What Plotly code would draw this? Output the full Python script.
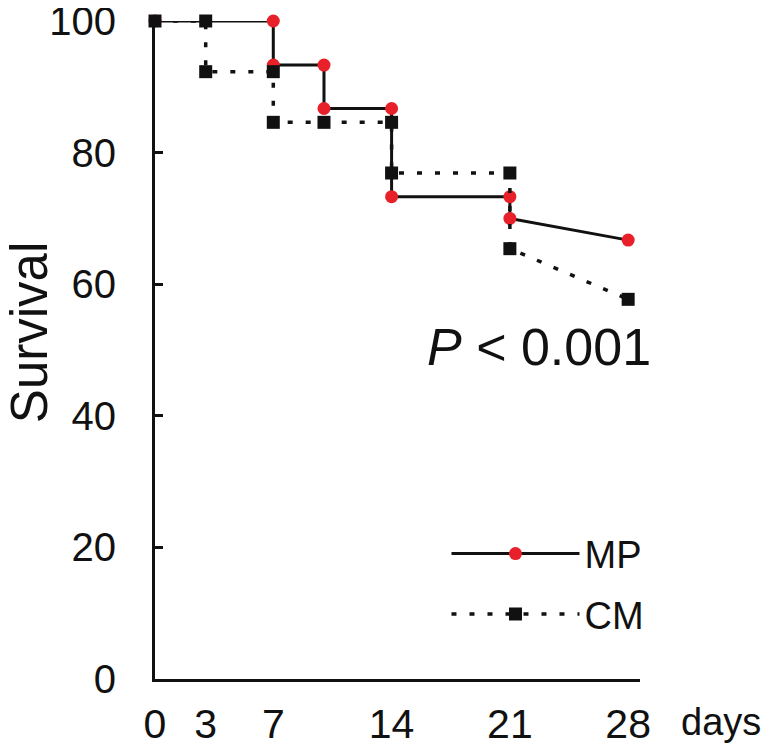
import plotly.graph_objects as go

# ---- data ----
mp_days = [0, 7, 7, 10, 10, 14, 14, 21, 21, 28]
mp_surv = [100, 100, 93.3, 93.3, 86.7, 86.7, 73.3, 73.3, 70.0, 66.7]

cm_days = [0, 3, 3, 7, 7, 10, 14, 14, 21, 21, 28]
cm_surv = [100, 100, 92.3, 92.3, 84.6, 84.6, 84.6, 76.9, 76.9, 65.4, 57.7]

x_ticks = [0, 3, 7, 14, 21, 28]
y_ticks = [0, 20, 40, 60, 80, 100]

REG = "Liberation Sans, Arial, Helvetica, sans-serif"
INK = "#111111"

fig = go.Figure()
fig.add_trace(go.Scatter(
    x=mp_days, y=mp_surv, name="MP", mode="lines+markers", legendgroup="mp",
    line=dict(color=INK, width=3),
    marker=dict(symbol="circle", size=13, color="#e8202a"),
    cliponaxis=False,
))
fig.add_trace(go.Scatter(
    x=cm_days, y=cm_surv, name="CM", mode="lines+markers", legendgroup="cm",
    line=dict(color=INK, width=3.5, dash="5px,13px"),
    marker=dict(symbol="square", size=13, color=INK),
    cliponaxis=False,
))

# the page body has an 8px default margin, so the figure is sized to fit
fig.update_layout(
    width=761, height=741,
    margin=dict(l=147, r=129, t=13, b=70),
    paper_bgcolor="white", plot_bgcolor="white",
    showlegend=True,
    legend=dict(
        x=0.601, y=0.238, xanchor="left", yanchor="top",
        font=dict(family=REG, size=38, color=INK),
        itemwidth=128, bgcolor="rgba(0,0,0,0)",
        traceorder="grouped", tracegroupgap=8,
    ),
    xaxis=dict(
        range=[0, 28.7], tickvals=x_ticks, ticktext=[str(v) for v in x_ticks],
        showgrid=False, zeroline=False, showline=True, linecolor=INK, linewidth=3,
        ticks="", ticklabelstandoff=7, ticklabeloverflow="allow", automargin=False,
        tickfont=dict(family=REG, size=41, color=INK),
    ),
    yaxis=dict(
        range=[0, 100], tickvals=y_ticks, ticktext=[str(v) for v in y_ticks],
        showgrid=False, zeroline=False, showline=True, linecolor=INK, linewidth=3,
        ticks="inside", ticklen=8, tickwidth=3, tickcolor=INK, ticklabelstandoff=28,
        ticklabeloverflow="allow", automargin=False,
        tickfont=dict(family=REG, size=40, color=INK),
    ),
    annotations=[
        dict(text="Survival", xref="paper", yref="paper", x=-0.26, y=0.527,
             xanchor="center", yanchor="middle", textangle=-90, showarrow=False,
             font=dict(family=REG, size=51, color=INK)),
        dict(text="<i>P</i> < 0.001", xref="x", yref="y", x=22.7, y=50.4,
             xanchor="center", yanchor="middle", showarrow=False,
             font=dict(family=REG, size=52, color=INK)),
        dict(text="days", xref="paper", yref="paper", x=1.166, y=-0.066,
             xanchor="center", yanchor="middle", showarrow=False,
             font=dict(family=REG, size=38, color=INK)),
    ],
)

fig.write_html("out.html")
